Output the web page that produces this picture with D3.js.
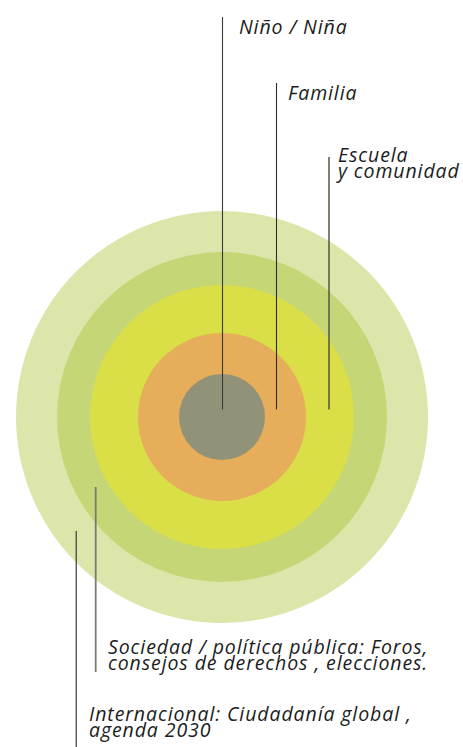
<!DOCTYPE html>
<html>
<head>
<meta charset="utf-8">
<script src="https://cdn.jsdelivr.net/npm/d3@7"></script>
<style>
  html, body { margin: 0; padding: 0; background: #ffffff; }
  svg { display: block; }
</style>
</head>
<body>
<svg id="chart" width="463" height="747"></svg>
<script>
// ---- data ----
const levels = ["Niño / Niña", "Familia", "Escuela y comunidad",
                "Sociedad / política pública", "Internacional"];
const radii = [43, 84, 132, 165, 206];          // ring outer radius (units)
const ringColors = ["#919277", "#e6ae5a", "#dadf48", "#c5d676", "#dce6aa"];
const labelLines = [
  ["Niño / Niña"],
  ["Familia"],
  ["Escuela", "y comunidad"],
  ["Sociedad / política pública: Foros,", "consejos de derechos , elecciones."],
  ["Internacional: Ciudadanía global ,", "agenda 2030"]
];

// ---- layout ----
const W = 463, H = 747;
const cx = 222, cy = 417;
const svg = d3.select("#chart");
const r = d3.scaleLinear().domain([0, 206]).range([0, 206]);

// rings, outer first
const order = d3.range(levels.length).reverse();
svg.append("g").selectAll("circle")
  .data(order)
  .join("circle")
  .attr("cx", cx).attr("cy", cy)
  .attr("r", i => r(radii[i]))
  .attr("fill", i => ringColors[i]);

// leader lines & label anchors (layout only)
const callouts = [
  { dx: 0.5,   y1: 17,  y2: 409.5, tx: 239, ty: 34,  stroke: "#3a3a3a", w: 1.1 },
  { dx: 54.5,  y1: 83,  y2: 409.5, tx: 288, ty: 100, stroke: "#2e2e2e", w: 1.1 },
  { dx: 107,   y1: 157, y2: 409.5, tx: 338, ty: 161.5, stroke: "#4a4a3a", w: 1.4 },
  { dx: -126.3,y1: 487, y2: 672, tx: 108, ty: 654, stroke: "#7a7a72", w: 1.8 },
  { dx: -145.8,y1: 531, y2: 747, tx: 89,  ty: 721, stroke: "#2a2a2a", w: 1.1 }
];

const g = svg.append("g");
callouts.forEach((c, i) => {
  g.append("line")
    .attr("x1", cx + c.dx).attr("x2", cx + c.dx)
    .attr("y1", c.y1).attr("y2", c.y2)
    .attr("stroke", c.stroke).attr("stroke-width", c.w);
  const t = g.append("text")
    .attr("x", c.tx).attr("y", c.ty)
    .attr("font-family", "'Open Sans', 'Noto Sans', sans-serif")
    .attr("font-style", "italic")
    .attr("font-size", 19.5)
    .attr("letter-spacing", 0.9)
    .attr("fill", "#1c1c1c");
  labelLines[i].forEach((s, j) => {
    t.append("tspan").attr("x", c.tx).attr("dy", j === 0 ? 0 : 16).text(s);
  });
});
</script>
</body>
</html>
